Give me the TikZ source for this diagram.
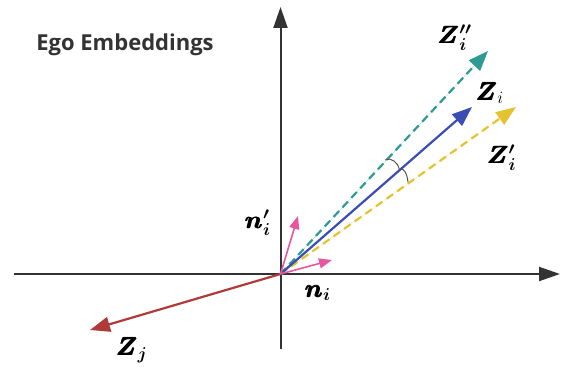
\documentclass[tikz,border=0pt]{standalone}
\usepackage{fontspec}
\usepackage{amsmath}
\usepackage{bm}
\newfontfamily\titlefont{Open Sans}
\usetikzlibrary{arrows.meta}
\definecolor{axisc}{HTML}{333333}
\definecolor{tealc}{HTML}{2E9A95}
\definecolor{bluec}{HTML}{3A4DB5}
\definecolor{yellowc}{HTML}{E3C330}
\definecolor{redc}{HTML}{B03A3A}
\definecolor{pinkc}{HTML}{E8579E}
\definecolor{arcc}{HTML}{555555}
\newcommand{\hvZ}{\pmb{\boldsymbol{Z}}}
\newcommand{\hvn}{\pmb{\boldsymbol{n}}}
\tikzset{
  axisline/.style={draw=axisc, line width=2pt, -{Triangle[length=21pt,width=14pt]}},
  vec/.style={line width=2.2pt, -{Triangle[length=20pt,width=15pt]}},
  dvec/.style={vec, dash pattern=on 8pt off 5pt},
  smallvec/.style={draw=pinkc, line width=1.6pt, -{Triangle[length=13pt,width=10pt]}},
  anglearc/.style={draw=arcc, line width=1pt},
  zlab/.style={font=\fontsize{27}{27}\selectfont, inner sep=0pt},
  nlab/.style={font=\fontsize{26}{26}\selectfont, inner sep=0pt},
}
\begin{document}
\begin{tikzpicture}[x=1pt,y=1pt]
\useasboundingbox (0,0) rectangle (561,370);
% coordinates
\coordinate (O) at (280.5,96);
\coordinate (xl) at (14,96);
\coordinate (xr) at (560,96);
\coordinate (yb) at (280.5,21);
\coordinate (yt) at (280.5,363);
\coordinate (tT) at (488,319);
\coordinate (tB) at (472,263);
\coordinate (tY) at (516,263);
\coordinate (tR) at (90,40);
\coordinate (tN1) at (298,154);
\coordinate (tN) at (332,110);
% axes
\draw[axisline] (xl) -- (xr);
\draw[axisline] (yb) -- (yt);
% vectors
\draw[vec, draw=redc, fill=redc] (O) -- (tR);
\draw[dvec, draw=tealc, fill=tealc] (O) -- (tT);
\draw[dvec, draw=yellowc, fill=yellowc] (O) -- (tY);
\draw[vec, draw=bluec, fill=bluec] (O) -- (tB);
\draw[smallvec, fill=pinkc] (O) -- (tN1);
\draw[smallvec, fill=pinkc] (O) -- (tN);
% angle arcs
\coordinate (a1) at (385,210);
\coordinate (a2) at (399.5,200.5);
\coordinate (a3) at (408,188);
\draw[anglearc] (a1) to[out=30,in=100] (a2);
\draw[anglearc] (a2) to[out=30,in=95] (a3);
% labels
\node[zlab] (lT) at (455,332) {$\hvZ_{\boldsymbol{i}}^{\boldsymbol{\prime\prime}}$};
\node[zlab] (lB) at (490,277) {$\hvZ_i$};
\node[zlab] (lY) at (502,212) {$\hvZ_{\boldsymbol{i}}^{\boldsymbol{\prime}}$};
\node[nlab] (lN1) at (258,147) {$\hvn_{\boldsymbol{i}}^{\boldsymbol{\prime}}$};
\node[nlab] (lN) at (318,77) {$\hvn_{\boldsymbol{i}}$};
\node[zlab] (lR) at (132,20) {$\hvZ_{\boldsymbol{j}}$};
\node[font=\titlefont\bfseries\fontsize{22}{22}\selectfont, text=axisc, inner sep=0pt] (title) at (125,325) {Ego Embeddings};
\end{tikzpicture}
\end{document}
